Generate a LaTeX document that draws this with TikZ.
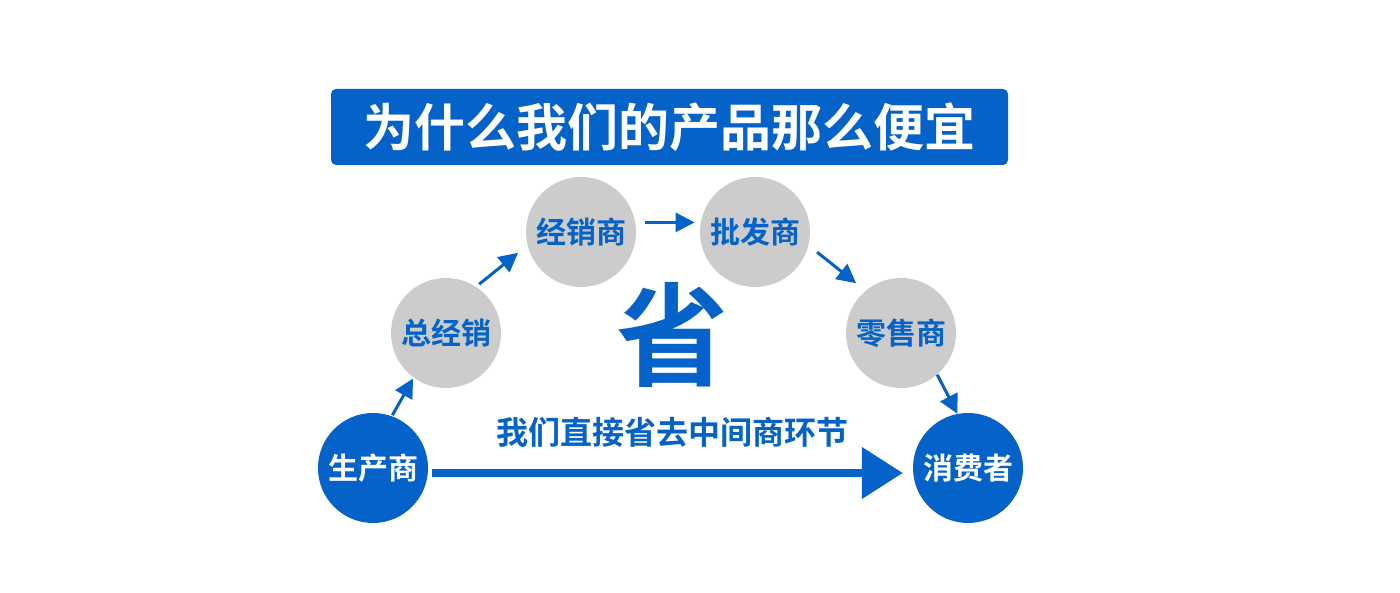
\documentclass[tikz,border=0pt]{standalone}
\usepackage{fontspec}
\usepackage{tikz}
\usetikzlibrary{arrows.meta}
\newfontfamily\cjk{Noto Sans CJK SC Bold}
\definecolor{shopblue}{RGB}{4,98,200}
\definecolor{stagegray}{RGB}{204,204,204}
\tikzset{
  stage/.style={circle, fill=stagegray, minimum size=110pt, inner sep=0pt, text=shopblue, font=\cjk\fontsize{30}{30}\selectfont},
  ends/.style={circle, fill=shopblue, minimum size=110pt, inner sep=0pt, text=white, font=\cjk\fontsize{30}{30}\selectfont},
  flow/.style={shopblue, line width=3pt, -{Triangle[length=19pt,width=19pt]}}
}
\begin{document}
\begin{tikzpicture}[x=1pt,y=1pt]
\useasboundingbox (0,0) rectangle (1400,593);
\node [fill=shopblue, rounded corners=5pt, minimum width=677pt, minimum height=76pt, inner sep=0pt, text=white, font=\cjk\fontsize{51}{51}\selectfont] (title) at (669.5,466) {为什么我们的产品那么便宜};
\node [ends] (maker) at (373,125) {生产商};
\node [stage] (agent) at (446,260) {总经销};
\node [stage] (dist) at (581,361) {经销商};
\node [stage] (whole) at (755,361) {批发商};
\node [stage] (retail) at (901,260) {零售商};
\node [ends] (cons) at (968,125) {消费者};
\node [text=shopblue, font=\cjk\fontsize{112}{112}\selectfont] (save) at (672,258) {省};
\node [text=shopblue, font=\cjk\fontsize{32}{32}\selectfont] (skip) at (672.5,161) {我们直接省去中间商环节};
\draw [flow, shorten <=1pt, shorten >=1pt] (maker.70) -- (agent.234); % ...
\draw [flow, shorten <=4pt, shorten >=12pt] (agent.57) -- (dist.194);
\draw [flow, shorten <=10pt, shorten >=6pt] (dist.10) -- (whole.170);
\draw [flow, shorten <=11pt, shorten >=12pt] (whole.-14) -- (retail.130);
\draw [flow] (retail.-49) -- (cons.101);
\draw [shopblue, line width=8pt, -{Triangle[length=41pt,width=50pt]}, shorten <=4pt, shorten >=10pt] ([yshift=-5pt]maker.east) -- ([yshift=-5pt]cons.west); % ...
\end{tikzpicture}
\end{document}
